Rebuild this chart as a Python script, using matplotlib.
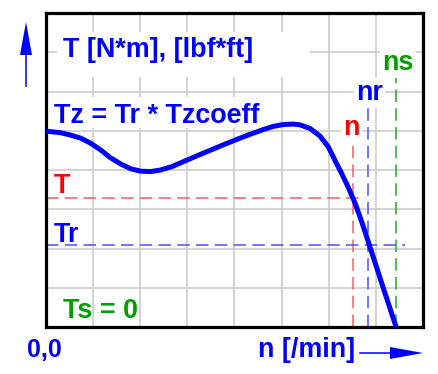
import matplotlib.pyplot as plt
from matplotlib.patches import Rectangle, Polygon

plt.rcParams['font.family'] = ['Liberation Sans', 'DejaVu Sans']
plt.rcParams['lines.scale_dashes'] = False

# torque curve Tz(n) (grid units)
curve_n = [0.00, 0.31, 0.52, 0.74, 0.95, 1.16, 1.37, 1.59, 1.80, 2.01, 2.22,
           2.43, 2.68, 2.91, 3.20, 3.48, 3.76, 4.05, 4.33, 4.61, 4.82, 5.04,
           5.25, 5.39, 5.60, 5.81, 5.99, 6.13, 6.27, 6.41, 6.56, 6.70, 6.84,
           7.15, 7.43]
curve_T = [4.99, 4.95, 4.89, 4.81, 4.68, 4.51, 4.31, 4.15, 4.03, 3.97, 3.96,
           4.00, 4.09, 4.21, 4.36, 4.50, 4.64, 4.78, 4.91, 5.03, 5.11, 5.16,
           5.17, 5.15, 5.06, 4.87, 4.59, 4.25, 3.92, 3.57, 3.15, 2.68, 2.17,
           1.02, 0.00]

T_level = 3.29
Tr_level = 2.09
n_val = 6.52
nr_val = 6.84
ns_val = 7.43
# how far each dashed guide runs
T_end = 6.77
Tr_end = 7.62
n_top = 4.81
nr_top = 5.68
ns_top = 6.39

grid_ticks = list(range(9))

W, H = 439, 374
fig = plt.figure(figsize=(W / 100, H / 100), dpi=100)
ax = fig.add_axes([46 / W, 1 - 327 / H, 377 / W, 314 / H])
ax.set_xlim(0, 8)
ax.set_ylim(0, 8)
ax.set_xticks(grid_ticks)
ax.set_yticks(grid_ticks)
ax.tick_params(length=0, labelbottom=False, labelleft=False)
ax.grid(True, color='#c8c8c8', lw=1.1, zorder=0)
ax.set_axisbelow(True)
for s in ax.spines.values():
    s.set_linewidth(2.3)
    s.set_color('black')

# white boxes behind the two big labels
ax.add_patch(Rectangle((0.23, 6.37), 5.37, 1.15, fc='white', ec='none', zorder=1))
ax.add_patch(Rectangle((0.10, 5.07), 4.60, 0.79, fc='white', ec='none', zorder=1))

dash = (9, 4.5)
ax.plot([0, T_end], [T_level, T_level], color='#ff5a5a', lw=1.1, dashes=dash, zorder=2)
ax.plot([n_val, n_val], [0, n_top], color='#ff5a5a', lw=1.1, dashes=dash, zorder=2)
ax.plot([0, Tr_end], [Tr_level, Tr_level], color='#5050ff', lw=1.1, dashes=dash, zorder=2)
ax.plot([nr_val, nr_val], [0, nr_top], color='#5050ff', lw=1.1, dashes=dash, zorder=2)
ax.plot([ns_val, ns_val], [0, ns_top], color='#20aa20', lw=1.1, dashes=dash, zorder=2)

ax.plot(curve_n, curve_T, color='#0000ff', lw=3.6, solid_capstyle='butt',
        solid_joinstyle='round', zorder=3, clip_on=False)

fs = 19.4
box = dict(fc='white', ec='none', pad=1.5)
ax.text(0.36, 6.88, 'T [N*m], [lbf*ft]', color='#0000ff', fontsize=fs,
        fontweight='bold', va='baseline', zorder=4)
ax.text(0.17, 5.20, 'Tz = Tr * Tzcoeff', color='#0000ff', fontsize=fs,
        fontweight='bold', va='baseline', zorder=4)
ax.text(0.17, 3.41, 'T', color='#ff0000', fontsize=fs, fontweight='bold',
        va='baseline', zorder=4)
ax.text(0.17, 2.17, 'Tr', color='#0000ff', fontsize=fs, fontweight='bold',
        va='baseline', zorder=4)
ax.text(0.36, 0.23, 'Ts = 0', color='#00a000', fontsize=fs, fontweight='bold',
        va='baseline', zorder=4)
ax.text(6.48, 4.89, 'n', color='#ff0000', fontsize=fs, fontweight='bold',
        ha='center', va='baseline', bbox=box, zorder=4)
ax.text(6.86, 5.78, 'nr', color='#0000ff', fontsize=fs, fontweight='bold',
        ha='center', va='baseline', bbox=box, zorder=4)
ax.text(7.47, 6.55, 'ns', color='#00a000', fontsize=fs, fontweight='bold',
        ha='center', va='baseline', bbox=box, zorder=4)

fig.text(27 / W, 1 - 357 / H, '0,0', color='#0000ff', fontsize=18,
         fontweight='bold', va='baseline')
fig.text(258 / W, 1 - 357 / H, 'n [/min]', color='#0000ff', fontsize=fs,
         fontweight='bold', va='baseline')

# axis arrows, drawn in figure pixels
ov = fig.add_axes([0, 0, 1, 1], zorder=-1)
ov.set_xlim(0, W)
ov.set_ylim(H, 0)
ov.axis('off')
ov.plot([26, 26], [86, 45], color='#0000ff', lw=1.1)
ov.add_patch(Polygon([[26, 22], [20, 55], [32, 55]], closed=True, fc='#0000ff', ec='none'))
ov.plot([360, 400], [353, 353], color='#0000ff', lw=1.1)
ov.add_patch(Polygon([[423, 353], [390, 347], [390, 359]], closed=True, fc='#0000ff', ec='none'))

fig.savefig('out.png', dpi=100)
